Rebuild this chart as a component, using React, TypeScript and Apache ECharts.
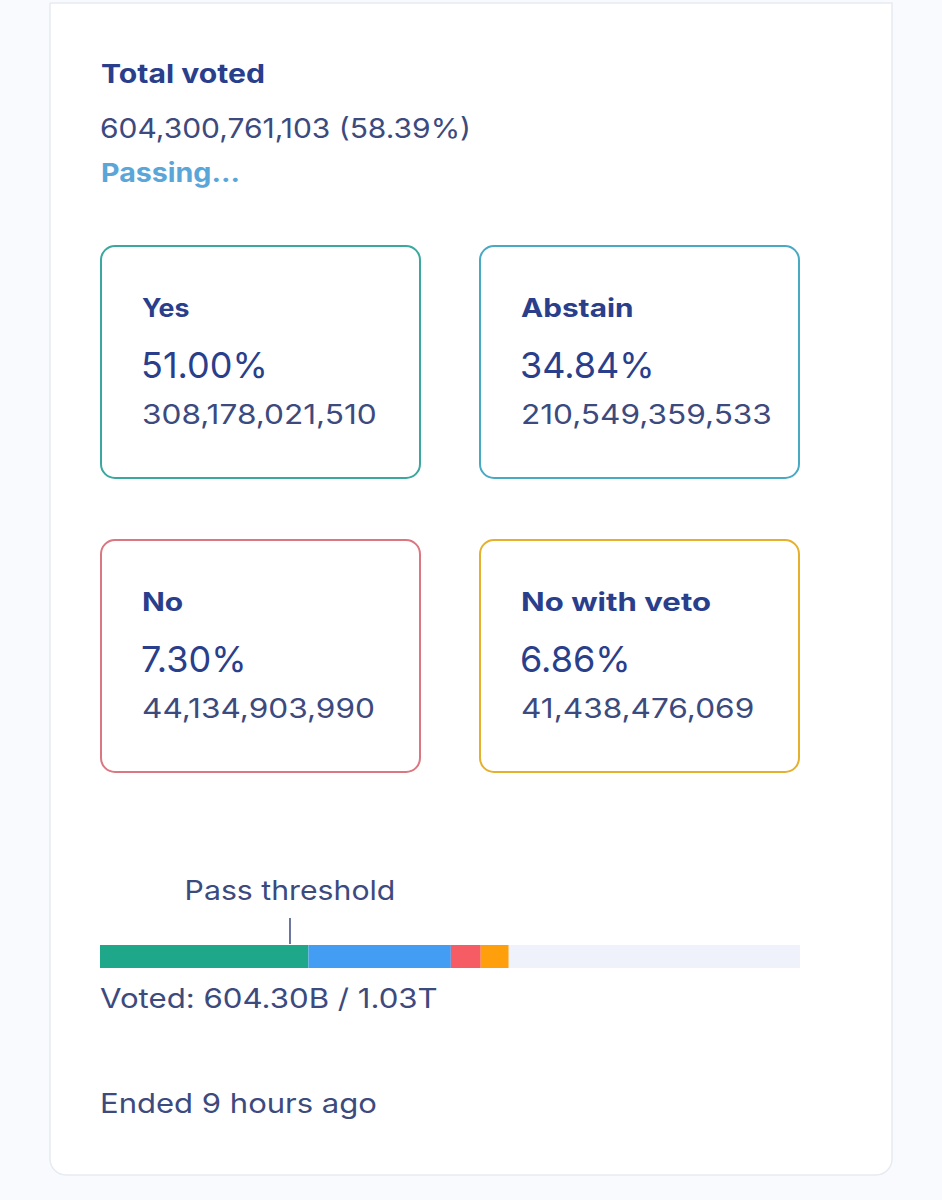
import React, { useEffect, useRef } from "react";
import * as echarts from "echarts";

const categories = ["Yes", "Abstain", "No", "No with veto"];
const percentLabels = ["51.00%", "34.84%", "7.30%", "6.86%"];
const voteAmounts = [308178021510, 210549359533, 44134903990, 41438476069];
const segmentColors = ["#1fa78a", "#439df2", "#f65c64", "#ff9f0b"];
const boxBorderColors = ["#3aa89f", "#4aa9c2", "#da7780", "#e5b02c"];
const totalVotedLabel = "604,300,761,103 (58.39%)";
const totalStake = 1034930000000; // 604.30B / 58.39%
const passThreshold = 280900000000;
const statusText = "Passing...";
const thresholdLabel = "Pass threshold";
const votedSummary = "Voted: 604.30B / 1.03T";
const endedText = "Ended 9 hours ago";

const FONT = "Inter, 'Open Sans', sans-serif";
const TITLE = "#2a3f8c";
const BODY = "#3c4a7e";
// horizontal stretch of each box title, to match the wider reference typeface
const LABEL_STRETCH = [1.07, 1.19, 1.2, 1.245];

function fmt(n: number) {
  return n.toLocaleString("en-US");
}

function txt(
  text: string,
  x: number,
  y: number,
  size: number,
  weight: any,
  fill: string,
  sx = 1,
  align = "left"
) {
  return {
    type: "text",
    x,
    y,
    scaleX: sx,
    z: 5,
    style: {
      text,
      fontSize: size,
      fontWeight: weight,
      fontFamily: FONT,
      fill,
      align,
      verticalAlign: "middle",
    },
  };
}

export default function App() {
  const ref = useRef<HTMLDivElement>(null);
  useEffect(() => {
    if (!ref.current) return;
    const chart = echarts.init(ref.current, undefined, { renderer: "svg" });
    const voted = voteAmounts.reduce((a, b) => a + b, 0);
    const series: any[] = categories.map((c, i) => ({
      name: c,
      type: "bar",
      stack: "v",
      barWidth: "100%",
      data: [voteAmounts[i]],
      itemStyle: { color: segmentColors[i] },
      silent: true,
    }));
    series.push({
      name: "Not voted",
      type: "bar",
      stack: "v",
      barWidth: "100%",
      data: [totalStake - voted],
      itemStyle: { color: "#eff2fa" },
      silent: true,
    });
    chart.setOption({
      animation: false,
      backgroundColor: "#f8fafd",
      grid: { left: 100, top: 945, width: 700, height: 23, containLabel: false },
      xAxis: { type: "value", min: 0, max: totalStake, show: false },
      yAxis: { type: "category", data: ["votes"], show: false },
      series,
    });
    const tx = chart.convertToPixel({ xAxisIndex: 0 }, passThreshold) as number;

    const boxes: any[] = [];
    const pos = [
      [101, 246],
      [480, 246],
      [101, 540],
      [480, 540],
    ];
    categories.forEach((c, i) => {
      const [bx, by] = pos[i];
      boxes.push({
        type: "rect",
        z: 2,
        shape: { x: bx, y: by, width: 319, height: 232, r: 14 },
        style: { fill: "#ffffff", stroke: boxBorderColors[i], lineWidth: 2 },
      });
      boxes.push(txt(c, bx + 41, by + 62, 25, 700, TITLE, LABEL_STRETCH[i]));
      boxes.push(txt(percentLabels[i], bx + 40, by + 119, 36, 400, TITLE, 1.0));
      boxes.push(txt(fmt(voteAmounts[i]), bx + 41, by + 168, 27, 400, BODY, 1.17));
    });

    chart.setOption({
      graphic: {
        elements: [
          {
            type: "rect",
            z: 0,
            shape: { x: 50, y: 3, width: 842, height: 1172, r: [0, 0, 16, 16] },
            style: { fill: "#ffffff", stroke: "#e6eaf1", lineWidth: 1.5 },
          },
          txt("Total voted", 101, 74, 26, 700, TITLE, 1.16),
          txt(totalVotedLabel, 100, 128, 27, 400, BODY, 1.11),
          txt(statusText, 101, 173, 26, 700, "#5aa6d8", 1.1),
          ...boxes,
          txt(thresholdLabel, tx, 890, 27, 400, BODY, 1.12, "center"),
          {
            type: "line",
            z: 5,
            shape: { x1: tx, y1: 918, x2: tx, y2: 944 },
            style: { stroke: "#3c4a7e", lineWidth: 1.5 },
          },
          txt(votedSummary, 100, 998, 27, 400, BODY, 1.155),
          txt(endedText, 100, 1103, 27, 400, BODY, 1.15),
        ],
      },
    });
    return () => chart.dispose();
  }, []);
  return (
    <div
      ref={ref}
      style={{ position: "absolute", left: 0, top: 0, width: 942, height: 1200 }}
    />
  );
}
